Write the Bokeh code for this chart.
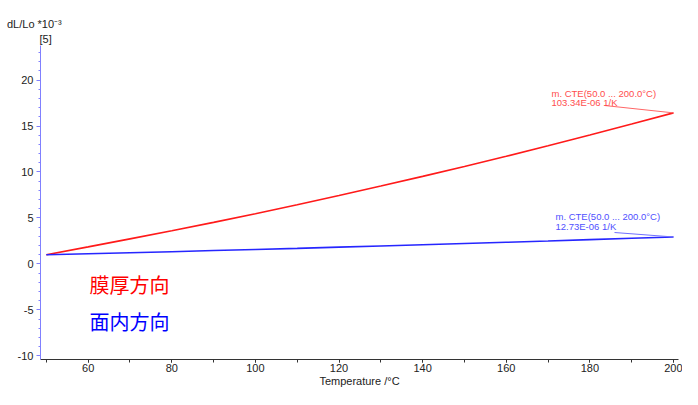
from bokeh.plotting import figure
from bokeh.models import Label, Range1d, SingleIntervalTicker, Title, PrintfTickFormatter
from bokeh.embed import file_html
from bokeh.resources import INLINE

# ---- data ----
temps = [50, 60, 70, 80, 90, 100, 110, 120, 130, 140, 150, 160, 170, 180, 190, 200]
thickness_dir = [1.0, 1.85, 2.72, 3.61, 4.52, 5.46, 6.43, 7.44, 8.47, 9.52, 10.6, 11.71, 12.85, 14.02, 15.21, 16.43]
inplane_dir = [1.0, 1.11, 1.22, 1.33, 1.45, 1.57, 1.69, 1.82, 1.95, 2.08, 2.22, 2.35, 2.49, 2.64, 2.79, 2.93]
series_names = ["膜厚方向", "面内方向"]
cte_title = "m. CTE(50.0 ... 200.0°C)"
cte_values = ["103.34E-06 1/K", "12.73E-06 1/K"]
x_label = "Temperature /°C"
y_label = "dL/Lo *10⁻³"
y_label_scale = "[5]"

RED = "#ff1a1a"
BLUE = "#2626ff"

W, H = 682, 389
BL, BR, BT, BB = 40, 4, 45, 30
XMIN, XMAX = 48.6, 201.2
YMIN, YMAX = -10.4, 23.76
FL, FR, FT, FB = BL, W - BR, BT, H - BB


def dx(px):
    return XMIN + (px - FL) / (FR - FL) * (XMAX - XMIN)


def dy(py):
    return YMAX - (py - FT) / (FB - FT) * (YMAX - YMIN)


p = figure(width=W, height=H, output_backend="svg", toolbar_location=None,
           x_range=Range1d(XMIN, XMAX), y_range=Range1d(YMIN, YMAX),
           min_border_left=BL, min_border_right=BR, min_border_top=BT, min_border_bottom=BB)
p.outline_line_color = None
p.xgrid.grid_line_color = None
p.ygrid.grid_line_color = None
p.background_fill_color = "white"
p.border_fill_color = "white"

p.xaxis.ticker = SingleIntervalTicker(interval=20, num_minor_ticks=2)
p.yaxis.ticker = SingleIntervalTicker(interval=5, num_minor_ticks=5)
p.yaxis.formatter = PrintfTickFormatter(format="%d")

for ax in (p.xaxis, p.yaxis):
    ax.major_label_text_font = "Liberation Sans"
    ax.major_label_text_font_size = "11px"
    ax.major_label_text_color = "#222222"
    ax.major_tick_in = 0
    ax.minor_tick_in = 0

p.xaxis.axis_line_color = "#333333"
p.xaxis.major_tick_line_color = "#333333"
p.xaxis.minor_tick_line_color = "#333333"
p.xaxis.major_tick_out = 3
p.xaxis.minor_tick_out = 3
p.xaxis.major_label_standoff = 1
p.xaxis.axis_label = x_label
p.xaxis.axis_label_text_font = "Liberation Sans"
p.xaxis.axis_label_text_font_size = "11px"
p.xaxis.axis_label_text_font_style = "normal"
p.xaxis.axis_label_text_color = "#222222"
p.xaxis.axis_label_standoff = 0

p.yaxis.axis_line_color = "#8080ff"
p.yaxis.major_tick_line_color = "#8080ff"
p.yaxis.minor_tick_line_color = "#8080ff"
p.yaxis.major_tick_out = 4
p.yaxis.minor_tick_out = 2
p.yaxis.major_label_standoff = 3

# y-axis title at the top-left, as two stacked titles
p.add_layout(Title(text=y_label_scale, align="left", offset=-1, standoff=2,
                   text_font="Liberation Sans", text_font_size="11px", text_line_height=0.9,
                   text_font_style="normal", text_color="#222222"), "above")
p.add_layout(Title(text=y_label, align="left", offset=-33.5, standoff=0,
                   text_font="Liberation Sans", text_font_size="11px",
                   text_font_style="normal", text_color="#222222"), "above")

p.line(temps, thickness_dir, line_color=RED, line_width=1.6)
p.line(temps, inplane_dir, line_color=BLUE, line_width=1.6)

# leader lines of the CTE annotations
p.segment(x0=[dx(604)], y0=[dy(105)], x1=[temps[-1]], y1=[thickness_dir[-1]],
          line_color="#ff6666", line_width=1)
p.segment(x0=[dx(614)], y0=[dy(232)], x1=[temps[-1]], y1=[inplane_dir[-1]],
          line_color="#7070ff", line_width=1)


def add_label(text, px, py, color, size, align="left", font="Liberation Sans"):
    p.add_layout(Label(x=dx(px), y=dy(py), text=text, text_color=color,
                       text_font=font, text_font_size=size,
                       text_align=align, text_baseline="middle"))


add_label(cte_title, 551, 92.7, "#ff4d4d", "9.5px")
add_label(cte_values[0], 551, 101.5, "#ff4d4d", "9.5px")
add_label(cte_title, 555, 216.3, "#5050ff", "9.5px")
add_label(cte_values[1], 555, 225.5, "#5050ff", "9.5px")

add_label(series_names[0], 89, 284, "#ff0000", "20px", font="Noto Sans CJK JP")
add_label(series_names[1], 89, 321, "#0000ff", "20px", font="Noto Sans CJK JP")

open("out.html", "w").write(file_html(p, INLINE))
